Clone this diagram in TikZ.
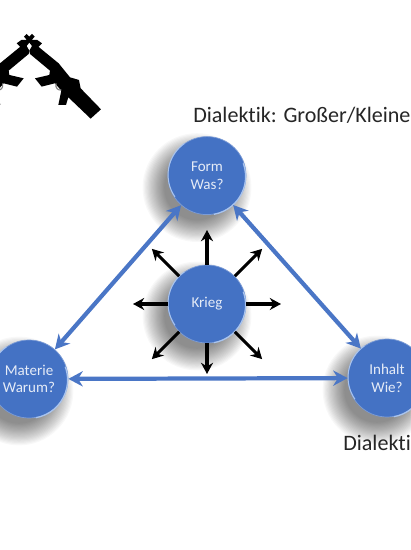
\documentclass[tikz,border=0pt]{standalone}
\usepackage{fontspec}
\setmainfont[Ligatures=NoCommon]{Carlito}
\usepackage{tikz}
\usetikzlibrary{arrows.meta,positioning,calc}
\definecolor{discblue}{HTML}{4472C4}
\definecolor{discrim}{HTML}{A9C4EE}
\definecolor{disctext}{HTML}{E6ECF7}
\definecolor{linkblue}{HTML}{4A76C6}
\definecolor{labelgray}{HTML}{262626}

\begin{document}
\begin{tikzpicture}[
    disc/.style={circle, fill=discblue, draw=discblue!70!white, line width=0.5pt, minimum size=1.95cm, inner sep=0pt, align=center, font=\fontsize{10.7}{12.6}\selectfont, text=disctext},
    link/.style={{Stealth[length=3.6mm,width=3.8mm]}-{Stealth[length=3.6mm,width=3.8mm]}, line width=3pt, linkblue},
    ray/.style={-{Stealth[length=2.8mm,width=3mm]}, line width=2.2pt, black},
    heading/.style={anchor=west, inner sep=0pt, text=labelgray, font=\fontsize{15.7}{17}\selectfont}
]
    \useasboundingbox (0,0) rectangle (10.25,13.75);
    \fill[white] (0,0) rectangle (10.25,13.75);

    % soft shadows down and to the left of the discs
    \foreach \x/\y in {5.175/9.36, 5.175/6.15, 0.725/4.275, 9.675/4.3} {
        \foreach \r in {1.36,1.33,...,0.8} {
            \fill[black, opacity=0.028] (\x-0.25,\y-0.3) circle (\r);
        }
    }

    \node[disc] (form) at (5.175,9.36) {Form\\Was?};
    \node[disc] (krieg) at (5.175,6.15) {Krieg};
    \node[disc] (materie) at (0.725,4.275) {Materie\\Warum?};
    \node[disc] (inhalt) at (9.675,4.3) {Inhalt\\Wie?};

    % light rims on the discs
    \foreach \n in {form,krieg,materie,inhalt} {
        \draw[discrim, line width=0.9pt] (\n.-80) arc[start angle=-80, end angle=20, radius=0.96cm];
        \draw[discrim, line width=0.7pt] (\n.125) arc[start angle=125, end angle=215, radius=0.96cm];
    }

    \draw[link] (form) -- (materie);
    \draw[link] (form) -- (inhalt);
    \draw[link] (materie) -- (inhalt);

    % arrows around the centre
    \foreach \a/\l in {0/1.85, 45/1.95, 90/1.85, 135/1.95, 180/1.85, 225/1.95, 270/1.75, 315/1.95} {
        \coordinate (tip\a) at ($(krieg)+(\a:\l)$);
        \draw[ray] (krieg.\a) -- (tip\a);
    }

    \node[heading] (top) at (4.825,10.875) {Dialektik: Großer/Kleine};
    \node[heading] (low) at (8.575,2.675) {Dialekti};

    % crossed rifles
    \foreach \s/\o in {1/0, -1/176} {
        \begin{scope}[shift={(0,13.25)}, x=0.00833cm, y=-0.00833cm]
            \clip (0,0) rectangle (330,330);
            \begin{scope}[xshift=\o*0.00833cm, xscale=\s]
                \fill[black] (72,50) -- (80,42) -- (98,60) -- (112,60) -- (126,70) -- (114,82) -- (110,76)
                    -- (176,130) -- (210,172) -- (237,180) -- (242,205) -- (303,268) -- (272,296) -- (205,232)
                    -- (198,255) -- (175,255) -- (184,212) -- (165,190) -- (125,200) -- (105,175) -- (148,165)
                    -- (150,152) -- (90,102) -- (88,92) -- (96,78) -- (88,68) -- cycle;
                \draw[gray, line width=0.8pt] (168,190) .. controls (165,205) and (175,212) .. (184,210);
            \end{scope}
        \end{scope}
    }
\end{tikzpicture}
\end{document}
